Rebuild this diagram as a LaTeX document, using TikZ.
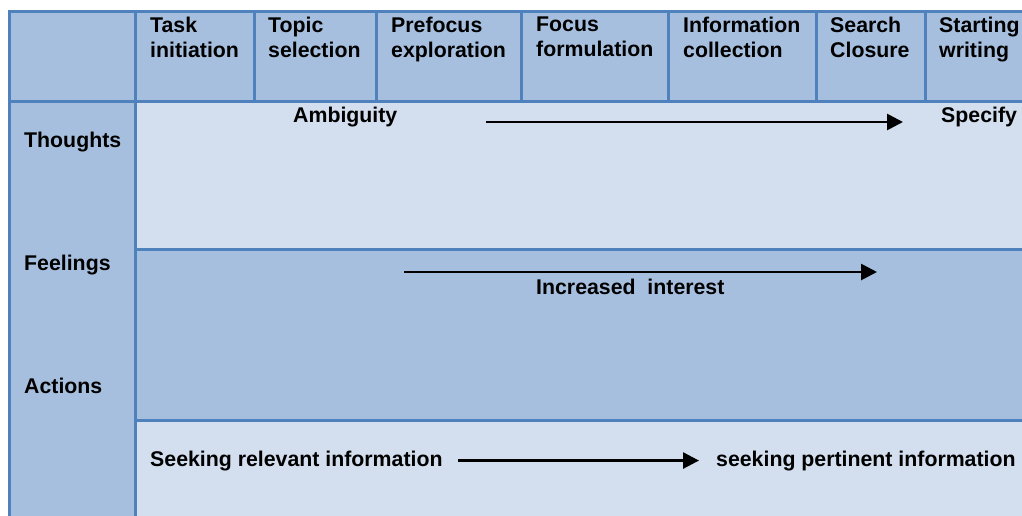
\documentclass[tikz,border=0pt]{standalone}
\usepackage{fontspec}
\setmainfont{Liberation Sans}
\usetikzlibrary{arrows.meta,positioning}
\definecolor{celldark}{HTML}{A7BFDE}
\definecolor{celllight}{HTML}{D3DFEE}
\definecolor{cellrule}{HTML}{4F81BD}
% one filled table cell: colour, then two corners
\newcommand{\cell}[5]{
   \filldraw[fill=#1, draw=cellrule, line width=3pt] (#2,#3) rectangle (#4,#5);
}
\begin{document}
\begin{tikzpicture}[x=1pt, y=-1pt,
    lbl/.style={inner sep=0pt, font=\fontsize{21.3}{25}\selectfont\bfseries},
    head/.style={lbl, anchor=north west, align=left,
      execute at begin node=\vphantom{Tk}},
    flow/.style={line width=2.7pt, -{Triangle[length=16pt,width=16pt]}}]
    \useasboundingbox (0,0) rectangle (1022,515);
    \clip (0,0) rectangle (1022,515);
    % header row
    \cell{celldark}{9}{11}{135}{101}
    \cell{celldark}{135}{11}{254}{101}
    \cell{celldark}{254}{11}{376}{101}
    \cell{celldark}{376}{11}{521}{101}
    \cell{celldark}{521}{11}{668}{101}
    \cell{celldark}{668}{11}{816}{101}
    \cell{celldark}{816}{11}{925}{101}
    \cell{celldark}{925}{11}{1040}{101}
    % row labels column and the three bands
    \cell{celldark}{9}{101}{135}{530}
    \cell{celllight}{135}{101}{1040}{249}
    \cell{celldark}{135}{249}{1040}{420}
    \cell{celllight}{135}{420}{1040}{530}

    \node[head] (task) at (150,16.5) {Task\\initiation};
    \node[head] (topic) at (268,16.5) {Topic\\selection};
    \node[head] (prefocus) at (391,16.5) {Prefocus\\exploration};
    \node[head] (focus) at (536,16.5) {Focus\\formulation};
    \node[head] (collect) at (683,16.5) {Information\\collection};
    \node[head] (closure) at (830,16.5) {Search\\Closure};
    \node[head] (writing) at (939,16.5) {Starting\\writing};

    \node[lbl, anchor=base west] (thoughts) at (24,147) {Thoughts};
    \node[lbl, anchor=base west] (feelings) at (24,270) {Feelings};
    \node[lbl, anchor=base west] (actions) at (24,393) {Actions};

    % thoughts
    \node[lbl, anchor=base west] (ambig) at (293,122) {Ambiguity};
    \node[lbl, anchor=base west] (specify) at (941,122) {Specify};
    \coordinate (thought from) at (486,122);
    \coordinate (thought to) at (903,122);
    \draw[flow] (thought from) -- (thought to);

    % feelings
    \coordinate (feel from) at (404,272);
    \coordinate (feel to) at (877,272);
    \draw[flow] (feel from) -- (feel to);
    \node[lbl, anchor=base west] (interest) at (536,294) {Increased~~interest};

    % actions
    \node[lbl, anchor=base west] (seekrel) at (150,466) {Seeking relevant information};
    \node[lbl, anchor=base west] (seekpert) at (716,466) {seeking pertinent information};
    \draw[flow, shorten <=15pt, shorten >=17pt] (seekrel.east) -- (seekpert.west);
\end{tikzpicture}
\end{document}
